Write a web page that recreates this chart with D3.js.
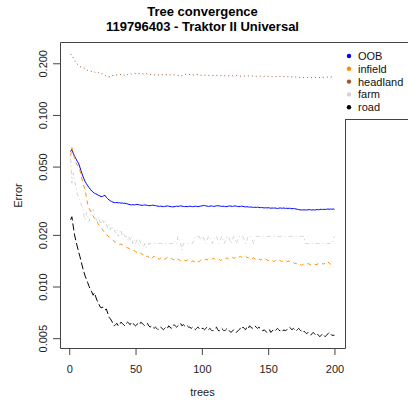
<!DOCTYPE html>
<html>
<head>
<meta charset="utf-8">
<script src="https://cdn.jsdelivr.net/npm/d3@7"></script>
<style>
  body { margin: 0; background: #fff; }
  svg { font-family: "Liberation Sans", Arial, sans-serif; }
</style>
</head>
<body>
<div id="chart"></div>
<script>
// chart text
const title = ["Tree convergence", "119796403 - Traktor II Universal"];
const xLabel = "trees";
const yLabel = "Error";
const xTicks = [0, 50, 100, 150, 200];
const yTicks = [0.005, 0.01, 0.02, 0.05, 0.1, 0.2];

// error per number of trees (1..200)
const oob = [
  0.0611, 0.0630, 0.0598, 0.0575, 0.0556, 0.0538, 0.0524, 0.0497, 0.0470, 0.0446,
  0.0425, 0.0409, 0.0397, 0.0386, 0.0377, 0.0368, 0.0360, 0.0355, 0.0350, 0.0347,
  0.0344, 0.0340, 0.0338, 0.0334, 0.0335, 0.0338, 0.0340, 0.0331, 0.0325, 0.0320,
  0.0316, 0.0313, 0.0310, 0.0309, 0.0308, 0.0309, 0.0307, 0.0308, 0.0306, 0.0307,
  0.0305, 0.0306, 0.0304, 0.0303, 0.0301, 0.0300, 0.0299, 0.0300, 0.0299, 0.0300,
  0.0301, 0.0300, 0.0299, 0.0298, 0.0297, 0.0298, 0.0299, 0.0298, 0.0297, 0.0296,
  0.0296, 0.0297, 0.0298, 0.0297, 0.0296, 0.0295, 0.0294, 0.0293, 0.0294, 0.0293,
  0.0292, 0.0293, 0.0294, 0.0295, 0.0294, 0.0293, 0.0292, 0.0291, 0.0292, 0.0293,
  0.0294, 0.0293, 0.0294, 0.0295, 0.0294, 0.0293, 0.0292, 0.0293, 0.0292, 0.0293,
  0.0294, 0.0293, 0.0292, 0.0293, 0.0294, 0.0293, 0.0292, 0.0293, 0.0294, 0.0295,
  0.0296, 0.0297, 0.0295, 0.0294, 0.0293, 0.0294, 0.0295, 0.0294, 0.0293, 0.0294,
  0.0295, 0.0296, 0.0295, 0.0294, 0.0293, 0.0294, 0.0293, 0.0292, 0.0293, 0.0294,
  0.0295, 0.0294, 0.0293, 0.0294, 0.0295, 0.0294, 0.0293, 0.0292, 0.0293, 0.0294,
  0.0293, 0.0292, 0.0291, 0.0292, 0.0291, 0.0290, 0.0291, 0.0290, 0.0289, 0.0290,
  0.0289, 0.0290, 0.0289, 0.0288, 0.0289, 0.0288, 0.0287, 0.0288, 0.0287, 0.0288,
  0.0287, 0.0286, 0.0287, 0.0286, 0.0287, 0.0286, 0.0285, 0.0286, 0.0287, 0.0286,
  0.0286, 0.0287, 0.0285, 0.0286, 0.0285, 0.0286, 0.0285, 0.0284, 0.0285, 0.0284,
  0.0283, 0.0282, 0.0281, 0.0280, 0.0279, 0.0280, 0.0279, 0.0280, 0.0279, 0.0280,
  0.0281, 0.0280, 0.0279, 0.0280, 0.0279, 0.0280, 0.0281, 0.0280, 0.0281, 0.0282,
  0.0281, 0.0282, 0.0281, 0.0282, 0.0283, 0.0282, 0.0283, 0.0282, 0.0283, 0.0282
];
const infield = [
  0.0575, 0.0645, 0.0600, 0.0560, 0.0530, 0.0510, 0.0495, 0.0478, 0.0445, 0.0410,
  0.0385, 0.0366, 0.0330, 0.0300, 0.0285, 0.0275, 0.0265, 0.0258, 0.0250, 0.0245,
  0.0238, 0.0231, 0.0225, 0.0220, 0.0215, 0.0210, 0.0205, 0.0202, 0.0197, 0.0195,
  0.0192, 0.0190, 0.0186, 0.0183, 0.0181, 0.0180, 0.0178, 0.0176, 0.0177, 0.0175,
  0.0173, 0.0172, 0.0170, 0.0168, 0.0167, 0.0165, 0.0164, 0.0163, 0.0162, 0.0160,
  0.0158, 0.0157, 0.0159, 0.0156, 0.0155, 0.0152, 0.0150, 0.0148, 0.0151, 0.0147,
  0.0149, 0.0146, 0.0148, 0.0150, 0.0147, 0.0145, 0.0146, 0.0144, 0.0147, 0.0145,
  0.0146, 0.0144, 0.0146, 0.0148, 0.0147, 0.0145, 0.0146, 0.0144, 0.0143, 0.0145,
  0.0146, 0.0144, 0.0143, 0.0141, 0.0142, 0.0140, 0.0142, 0.0141, 0.0143, 0.0142,
  0.0140, 0.0139, 0.0141, 0.0140, 0.0139, 0.0141, 0.0139, 0.0140, 0.0142, 0.0141,
  0.0143, 0.0142, 0.0144, 0.0143, 0.0145, 0.0144, 0.0143, 0.0145, 0.0146, 0.0144,
  0.0143, 0.0145, 0.0144, 0.0142, 0.0143, 0.0144, 0.0146, 0.0145, 0.0147, 0.0145,
  0.0144, 0.0146, 0.0148, 0.0146, 0.0147, 0.0149, 0.0147, 0.0148, 0.0150, 0.0148,
  0.0149, 0.0151, 0.0150, 0.0148, 0.0147, 0.0149, 0.0146, 0.0145, 0.0147, 0.0145,
  0.0144, 0.0146, 0.0145, 0.0143, 0.0144, 0.0142, 0.0143, 0.0145, 0.0143, 0.0142,
  0.0141, 0.0143, 0.0142, 0.0140, 0.0141, 0.0143, 0.0142, 0.0141, 0.0142, 0.0140,
  0.0141, 0.0142, 0.0140, 0.0139, 0.0141, 0.0140, 0.0138, 0.0137, 0.0138, 0.0136,
  0.0137, 0.0135, 0.0134, 0.0135, 0.0133, 0.0134, 0.0135, 0.0134, 0.0135, 0.0136,
  0.0135, 0.0134, 0.0135, 0.0136, 0.0135, 0.0134, 0.0135, 0.0136, 0.0137, 0.0135,
  0.0136, 0.0135, 0.0138, 0.0141, 0.0139, 0.0137, 0.0135, 0.0134, 0.0133, 0.0132
];
const headland = [
  0.2256, 0.2240, 0.2150, 0.2080, 0.2020, 0.1980, 0.1950, 0.1920, 0.1895, 0.1900,
  0.1880, 0.1860, 0.1840, 0.1815, 0.1810, 0.1800, 0.1790, 0.1770, 0.1780, 0.1760,
  0.1750, 0.1765, 0.1745, 0.1730, 0.1740, 0.1720, 0.1700, 0.1680, 0.1670, 0.1665,
  0.1675, 0.1690, 0.1700, 0.1695, 0.1705, 0.1710, 0.1720, 0.1730, 0.1715, 0.1725,
  0.1710, 0.1690, 0.1700, 0.1720, 0.1735, 0.1745, 0.1730, 0.1740, 0.1750, 0.1745,
  0.1740, 0.1735, 0.1745, 0.1750, 0.1740, 0.1730, 0.1735, 0.1740, 0.1730, 0.1720,
  0.1715, 0.1725, 0.1720, 0.1710, 0.1715, 0.1720, 0.1710, 0.1705, 0.1710, 0.1715,
  0.1710, 0.1705, 0.1715, 0.1720, 0.1715, 0.1710, 0.1705, 0.1710, 0.1715, 0.1710,
  0.1705, 0.1700, 0.1690, 0.1680, 0.1695, 0.1705, 0.1720, 0.1730, 0.1725, 0.1715,
  0.1720, 0.1710, 0.1715, 0.1705, 0.1710, 0.1720, 0.1715, 0.1710, 0.1705, 0.1700,
  0.1705, 0.1710, 0.1700, 0.1695, 0.1700, 0.1705, 0.1700, 0.1695, 0.1700, 0.1705,
  0.1700, 0.1695, 0.1690, 0.1695, 0.1700, 0.1695, 0.1690, 0.1695, 0.1700, 0.1695,
  0.1690, 0.1695, 0.1690, 0.1685, 0.1690, 0.1695, 0.1690, 0.1685, 0.1680, 0.1685,
  0.1690, 0.1685, 0.1680, 0.1685, 0.1690, 0.1685, 0.1680, 0.1685, 0.1690, 0.1685,
  0.1680, 0.1675, 0.1680, 0.1685, 0.1680, 0.1675, 0.1680, 0.1685, 0.1680, 0.1675,
  0.1680, 0.1675, 0.1670, 0.1675, 0.1680, 0.1675, 0.1670, 0.1675, 0.1680, 0.1675,
  0.1670, 0.1675, 0.1670, 0.1665, 0.1670, 0.1675, 0.1670, 0.1665, 0.1670, 0.1665,
  0.1660, 0.1665, 0.1660, 0.1655, 0.1650, 0.1655, 0.1650, 0.1645, 0.1650, 0.1655,
  0.1650, 0.1645, 0.1650, 0.1655, 0.1650, 0.1655, 0.1660, 0.1655, 0.1650, 0.1655,
  0.1660, 0.1655, 0.1660, 0.1665, 0.1660, 0.1655, 0.1660, 0.1665, 0.1660, 0.1665
];
const farm = [
  0.0585, 0.0400, 0.0460, 0.0420, 0.0380, 0.0350, 0.0330, 0.0320, 0.0300, 0.0290,
  0.0260, 0.0245, 0.0270, 0.0255, 0.0240, 0.0260, 0.0275, 0.0280, 0.0265, 0.0250,
  0.0240, 0.0255, 0.0240, 0.0230, 0.0245, 0.0235, 0.0245, 0.0230, 0.0220, 0.0230,
  0.0214, 0.0225, 0.0214, 0.0214, 0.0205, 0.0214, 0.0196, 0.0205, 0.0214, 0.0196,
  0.0205, 0.0196, 0.0196, 0.0187, 0.0196, 0.0187, 0.0196, 0.0178, 0.0187, 0.0178,
  0.0187, 0.0178, 0.0187, 0.0178, 0.0178, 0.0169, 0.0178, 0.0169, 0.0169, 0.0178,
  0.0178, 0.0178, 0.0178, 0.0178, 0.0178, 0.0178, 0.0178, 0.0178, 0.0178, 0.0178,
  0.0178, 0.0178, 0.0178, 0.0178, 0.0178, 0.0178, 0.0178, 0.0178, 0.0178, 0.0178,
  0.0178, 0.0196, 0.0187, 0.0178, 0.0163, 0.0178, 0.0178, 0.0178, 0.0178, 0.0178,
  0.0178, 0.0178, 0.0178, 0.0187, 0.0196, 0.0196, 0.0196, 0.0196, 0.0187, 0.0196,
  0.0196, 0.0187, 0.0178, 0.0187, 0.0196, 0.0196, 0.0187, 0.0178, 0.0187, 0.0196,
  0.0196, 0.0187, 0.0178, 0.0187, 0.0196, 0.0187, 0.0178, 0.0187, 0.0196, 0.0196,
  0.0187, 0.0178, 0.0187, 0.0196, 0.0187, 0.0178, 0.0187, 0.0196, 0.0196, 0.0196,
  0.0196, 0.0187, 0.0178, 0.0187, 0.0196, 0.0196, 0.0196, 0.0187, 0.0178, 0.0187,
  0.0196, 0.0196, 0.0196, 0.0196, 0.0196, 0.0196, 0.0196, 0.0196, 0.0196, 0.0196,
  0.0196, 0.0196, 0.0196, 0.0196, 0.0196, 0.0196, 0.0196, 0.0196, 0.0196, 0.0196,
  0.0196, 0.0196, 0.0196, 0.0196, 0.0196, 0.0196, 0.0196, 0.0196, 0.0196, 0.0196,
  0.0196, 0.0196, 0.0196, 0.0196, 0.0196, 0.0196, 0.0196, 0.0178, 0.0178, 0.0178,
  0.0178, 0.0178, 0.0178, 0.0178, 0.0178, 0.0178, 0.0178, 0.0178, 0.0178, 0.0178,
  0.0178, 0.0178, 0.0178, 0.0178, 0.0178, 0.0178, 0.0178, 0.0178, 0.0187, 0.0196
];
const road = [
  0.0245, 0.0255, 0.0225, 0.0200, 0.0185, 0.0172, 0.0160, 0.0150, 0.0140, 0.0130,
  0.0122, 0.0115, 0.0110, 0.0105, 0.0100, 0.0096, 0.0093, 0.0089, 0.0092, 0.0087,
  0.0083, 0.0080, 0.0077, 0.0075, 0.0076, 0.0074, 0.0073, 0.0074, 0.0070, 0.0066,
  0.0065, 0.0063, 0.0061, 0.0059, 0.0060, 0.0061, 0.0059, 0.0060, 0.0062, 0.0061,
  0.0060, 0.0059, 0.0061, 0.0062, 0.0061, 0.0060, 0.0062, 0.0061, 0.0060, 0.0059,
  0.0060, 0.0061, 0.0060, 0.0062, 0.0061, 0.0060, 0.0059, 0.0060, 0.0061, 0.0059,
  0.0058, 0.0059, 0.0058, 0.0057, 0.0058, 0.0057, 0.0056, 0.0057, 0.0058, 0.0057,
  0.0056, 0.0057, 0.0058, 0.0057, 0.0059, 0.0058, 0.0057, 0.0059, 0.0060, 0.0059,
  0.0058, 0.0059, 0.0060, 0.0061, 0.0059, 0.0060, 0.0059, 0.0058, 0.0059, 0.0058,
  0.0058, 0.0057, 0.0058, 0.0057, 0.0056, 0.0057, 0.0058, 0.0057, 0.0056, 0.0057,
  0.0057, 0.0056, 0.0057, 0.0058, 0.0056, 0.0057, 0.0056, 0.0055, 0.0056, 0.0057,
  0.0058, 0.0056, 0.0055, 0.0056, 0.0057, 0.0056, 0.0055, 0.0056, 0.0057, 0.0056,
  0.0055, 0.0054, 0.0055, 0.0056, 0.0055, 0.0054, 0.0055, 0.0056, 0.0057, 0.0056,
  0.0058, 0.0057, 0.0056, 0.0058, 0.0057, 0.0059, 0.0058, 0.0057, 0.0058, 0.0059,
  0.0058, 0.0057, 0.0058, 0.0057, 0.0056, 0.0055, 0.0056, 0.0055, 0.0054, 0.0055,
  0.0056, 0.0054, 0.0055, 0.0056, 0.0055, 0.0056, 0.0057, 0.0056, 0.0055, 0.0056,
  0.0055, 0.0056, 0.0055, 0.0056, 0.0057, 0.0058, 0.0057, 0.0056, 0.0057, 0.0056,
  0.0055, 0.0056, 0.0057, 0.0056, 0.0055, 0.0054, 0.0055, 0.0054, 0.0053, 0.0054,
  0.0053, 0.0052, 0.0053, 0.0054, 0.0053, 0.0052, 0.0053, 0.0052, 0.0051, 0.0052,
  0.0053, 0.0052, 0.0051, 0.0052, 0.0053, 0.0054, 0.0053, 0.0052, 0.0052, 0.0052
];

const seriesNames = ["OOB", "infield", "headland", "farm", "road"];
const seriesValues = [oob, infield, headland, farm, road];
const seriesColors = ["#0000ff", "#ff8c00", "#a0522d", "#d3d3d3", "#000000"];
// R lty 1..5: solid, dashed, dotted, dotdash, longdash
const seriesDash = [null, "4,4", "1,3", "1,3,4,3", "7,3"];

const W = 408, H = 402;
const plot = { left: 60, right: 345, top: 43, bottom: 348 };

const svg = d3.select("#chart").append("svg")
  .attr("width", W).attr("height", H);

// R style axis limits: data range stretched by 4% on each side
const nTrees = oob.length;
const xPad = (nTrees - 1) * 0.04;
const x = d3.scaleLinear()
  .domain([1 - xPad, nTrees + xPad])
  .range([plot.left, plot.right]);

const allVals = seriesValues.flat();
const lo = Math.log10(d3.min(allVals)), hi = Math.log10(d3.max(allVals));
const yPad = (hi - lo) * 0.04;
const y = d3.scaleLog()
  .domain([Math.pow(10, lo - yPad), Math.pow(10, hi + yPad)])
  .range([plot.bottom, plot.top]);

// lines
const line = d3.line()
  .x((d, i) => x(i + 1))
  .y(d => y(d));

svg.append("g").selectAll("path")
  .data(seriesValues)
  .join("path")
  .attr("d", line)
  .attr("fill", "none")
  .attr("stroke", (d, i) => seriesColors[i])
  .attr("stroke-width", 1)
  .attr("stroke-dasharray", (d, i) => seriesDash[i]);

// axes
const xAxis = svg.append("g")
  .attr("transform", `translate(0,${plot.bottom})`)
  .call(d3.axisBottom(x).tickValues(xTicks).tickSize(7).tickPadding(10));
const yAxis = svg.append("g")
  .attr("transform", `translate(${plot.left},0)`)
  .call(d3.axisLeft(y).tickValues(yTicks).tickSize(7).tickFormat(d3.format(".3f")));

[xAxis, yAxis].forEach(g => {
  g.select(".domain").remove();
  g.selectAll("line").attr("stroke", "#444");
  g.selectAll("text").attr("fill", "#222")
    .style("font-size", "11px").style("font-family", "'Liberation Sans', Arial, sans-serif");
});
// y labels are turned like R's las = 0
yAxis.selectAll("text")
  .attr("transform", "rotate(-90)")
  .attr("x", 0).attr("y", -13).attr("dy", null)
  .style("text-anchor", "middle");

// box around the plot, the legend covers its top right corner
svg.append("path")
  .attr("d", `M${plot.right + 0.5},119.5 V${plot.bottom + 0.5} H${plot.left + 0.5} V${plot.top - 0.5} H${W}`)
  .attr("fill", "none").attr("stroke", "#444");
svg.append("line")
  .attr("x1", plot.right).attr("x2", W).attr("y1", 119.5).attr("y2", 119.5)
  .attr("stroke", "#444");

// titles
svg.append("g").selectAll("text")
  .data(title)
  .join("text")
  .attr("x", (plot.left + plot.right) / 2)
  .attr("y", (d, i) => 16 + i * 15)
  .attr("text-anchor", "middle")
  .style("font-size", "13px").style("font-weight", "bold")
  .text(d => d);

svg.append("text")
  .attr("x", (plot.left + plot.right) / 2).attr("y", 396)
  .attr("text-anchor", "middle").style("font-size", "11px").attr("fill", "#222")
  .text(xLabel);
svg.append("text")
  .attr("transform", `translate(22,${(plot.top + plot.bottom) / 2}) rotate(-90)`)
  .attr("text-anchor", "middle").style("font-size", "11px").attr("fill", "#222")
  .text(yLabel);

// legend
const legend = svg.append("g").selectAll("g")
  .data(seriesNames)
  .join("g")
  .attr("transform", (d, i) => `translate(349,${56 + i * 12.8})`);
legend.append("circle")
  .attr("r", 2.2)
  .attr("fill", (d, i) => seriesColors[i]);
legend.append("text")
  .attr("x", 9).attr("y", 4)
  .style("font-size", "11px").attr("fill", "#111")
  .text(d => d);
</script>
</body>
</html>
